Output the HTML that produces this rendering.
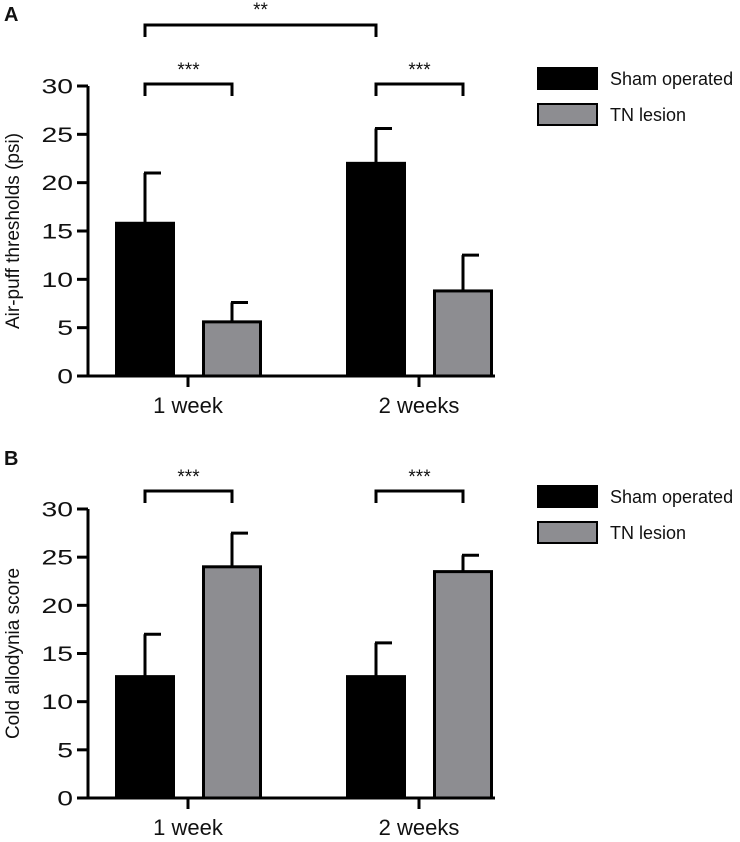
<!DOCTYPE html>
<html><head><meta charset="utf-8"><style>
body{margin:0;background:#fff;}
svg text{font-family:"Liberation Sans",sans-serif;fill:#111;}
</style></head><body>
<svg id="c" width="740" height="837" xmlns="http://www.w3.org/2000/svg"></svg>
<script>
const categories = ["1 week", "2 weeks"];
const series = ["Sham operated", "TN lesion"];
const airMeans = [[15.8, 5.6], [22.0, 8.8]];
const airErr = [[21.0, 7.6], [25.6, 12.5]];
const coldMeans = [[12.6, 24.0], [12.6, 23.5]];
const coldErr = [[17.0, 27.5], [16.1, 25.2]];
const yTicks = [0, 5, 10, 15, 20, 25, 30];
const colors = ["#000", "#8d8d91"];
const NS = "http://www.w3.org/2000/svg";
const svg = document.getElementById("c");
function el(tag, attrs, parent) {
  const e = document.createElementNS(NS, tag);
  for (const k in attrs) e.setAttribute(k, attrs[k]);
  (parent || svg).appendChild(e);
  return e;
}
function panel(letter, y0, y30, means, errs, title, showBig, legendY) {
  const g = el("g", {});
  
  
  const y = v => y0 + (y30 - y0) * v / 30;
  const lt = el("text", {x: 4, y: y30 - (letter === "A" ? 65 : 44), "font-size": 20, "font-weight": "bold"}, g);
  lt.textContent = letter;
  
  
  const ax = el("path", {d: `M88 ${y30} V${y0} M77 ${y0} H495`, stroke: "#000", "stroke-width": 3, fill: "none"}, g);
  
  
  yTicks.forEach(t => {
    el("line", {x1: 77, x2: 88, y1: y(t), y2: y(t), stroke: "#000", "stroke-width": 3}, g);
    const tx = el("text", {x: 0, y: 0, "font-size": 21, "text-anchor": "end", transform: `translate(73 ${y(t) + 7.5}) scale(1.35 1)`}, g);
    tx.textContent = t;
    
    
  });
  const yt = el("text", {x: 0, y: 0, "font-size": 19, "text-anchor": "middle", transform: `translate(19 ${(y0 + y30) / 2}) rotate(-90)`}, g);
  yt.textContent = title;
  
  
  const groupX = [115, 346];
  const barW = 60, gap = 87;
  categories.forEach((cat, i) => {
    const cx = groupX[i] + 73;
    el("line", {x1: cx, x2: cx, y1: y0, y2: y0 + 11, stroke: "#000", "stroke-width": 3}, g);
    const xl = el("text", {x: cx, y: y0 + 37, "font-size": 22, "text-anchor": "middle"}, g);
    xl.textContent = cat;
    
    
    series.forEach((s, j) => {
      const bx = groupX[i] + j * gap;
      const m = means[i][j], e = errs[i][j];
      const ec = bx + barW / 2;
      const er = el("path", {d: `M${ec} ${y(m)} V${y(e)} M${ec - 1} ${y(e)} H${ec + 16}`, stroke: "#000", "stroke-width": 3, fill: "none"}, g);
      
      
      const r = el("rect", {x: bx + 1.5, y: y(m), width: barW - 3, height: y0 - y(m), fill: colors[j], stroke: "#000", "stroke-width": 3}, g);
      
      
    });
    const x1 = groupX[i] + 30, x2 = groupX[i] + gap + 30;
    const by = y30 - 2 - (letter === "A" ? 0 : 16);
    const br = el("path", {d: `M${x1} ${by + 12} V${by} H${x2} V${by + 12}`, stroke: "#000", "stroke-width": 3, fill: "none"}, g);
    
    
    const st = el("text", {x: (x1 + x2) / 2, y: by - 8, "font-size": 19, "text-anchor": "middle"}, g);
    st.textContent = "***";
    
    
  });
  if (showBig) {
    const x1 = groupX[0] + 30, x2 = groupX[1] + 30;
    const br = el("path", {d: `M${x1} 37 V25 H${x2} V37`, stroke: "#000", "stroke-width": 3, fill: "none"}, g);
    
    
    const st = el("text", {x: (x1 + x2) / 2, y: 16, "font-size": 19, "text-anchor": "middle"}, g);
    st.textContent = "**";
    
    
  }
  series.forEach((s, j) => {
    const ly = legendY + j * 36;
    const r = el("rect", {x: 538, y: ly, width: 59, height: 21, fill: colors[j], stroke: "#000", "stroke-width": 2}, g);
    
    
    const t = el("text", {x: 610, y: ly + 17, "font-size": 18}, g);
    t.textContent = s;
    
    
  });
}
panel("A", 376, 86, airMeans, airErr, "Air-puff thresholds (psi)", true, 68);
panel("B", 798, 509, coldMeans, coldErr, "Cold allodynia score", false, 486);
</script>
</body></html>
